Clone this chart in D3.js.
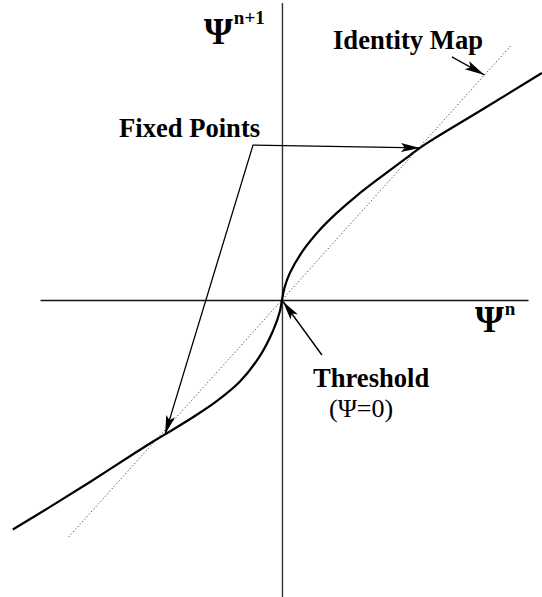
<!DOCTYPE html>
<html>
<head>
<meta charset="utf-8">
<script src="https://cdn.jsdelivr.net/npm/d3@7"></script>
<style>
  html, body { margin: 0; padding: 0; background: #fff; }
  svg { display: block; }
  text { font-family: "Liberation Serif", "DejaVu Serif", serif; fill: #000; }
</style>
</head>
<body>
<script>
// Return map  Psi^{n+1} = f(Psi^n): samples of the curve
const psiN    = [-1.98, -1.706, -1.412, -1.093, -0.971, -0.86, -0.652, -0.48, -0.309, -0.162, -0.064, -0.015, 0,
                 0.02, 0.059, 0.157, 0.279, 0.402, 0.549, 0.721, 0.892, 1.015, 1.09, 1.48, 1.912];
const psiNext = [-1.52, -1.37, -1.205, -1.02, -0.95, -0.89, -0.775, -0.67, -0.54, -0.37, -0.2, -0.075, 0,
                 0.085, 0.18, 0.33, 0.465, 0.575, 0.69, 0.81, 0.925, 1.007, 1.052, 1.265, 1.503];

// Identity map y = x, drawn over this interval
const identityRange = [-1.57, 1.69];

// Extent of the two coordinate axes
const axisXExtent = [-1.78, 1.81];
const axisYExtent = [-1.97, 1.97];

// Fixed points where the map crosses the identity, and the threshold
const fixedPoints = [[1.015, 1.007], [-0.86, -0.89]];
const threshold = [0, 0];

// Annotation anchors (data coordinates)
const fixedLabelElbow = [-0.213, 1.026];
const identityArrow = { from: [1.25, 1.61], to: [1.49, 1.49] };
const thresholdArrowTail = [0.294, -0.364];

const W = 542, H = 597;

const x = d3.scaleLinear().domain(axisXExtent).range([40, 528]);
const y = d3.scaleLinear().domain(axisYExtent).range([597.5, 2.5]);

const svg = d3.select("body").append("svg")
  .attr("width", W).attr("height", H)
  .attr("viewBox", `0 0 ${W} ${H}`);

// Axes through the origin, no ticks
const xAxis = d3.axisBottom(x).tickValues([]).tickSizeOuter(0);
const yAxis = d3.axisLeft(y).tickValues([]).tickSizeOuter(0);

svg.append("g")
  .attr("transform", `translate(0,${y(0)})`)
  .call(xAxis)
  .call(g => g.select(".domain").attr("stroke", "#111").attr("stroke-width", 1.3));

svg.append("g")
  .attr("transform", `translate(${x(0)},0)`)
  .call(yAxis)
  .call(g => g.select(".domain").attr("stroke", "#333").attr("stroke-width", 1.4));

// Identity map (dotted)
svg.append("line")
  .attr("x1", x(identityRange[0])).attr("y1", y(identityRange[0]))
  .attr("x2", x(identityRange[1])).attr("y2", y(identityRange[1]))
  .attr("stroke", "#444").attr("stroke-width", 1)
  .attr("stroke-dasharray", "1.2,2.2");

// Return map curve
const line = d3.line()
  .x(d => x(d[0])).y(d => y(d[1]))
  .curve(d3.curveCatmullRom.alpha(0.5));

svg.append("path")
  .datum(d3.zip(psiN, psiNext))
  .attr("d", line)
  .attr("fill", "none")
  .attr("stroke", "#000")
  .attr("stroke-width", 2.2)
  .attr("stroke-linejoin", "round");

// Arrow helper: slim filled head at the tip
function arrowHead(tail, tip, len = 19, half = 4.5) {
  const dx = tip[0] - tail[0], dy = tip[1] - tail[1];
  const d = Math.hypot(dx, dy), ux = dx / d, uy = dy / d;
  const bx = tip[0] - ux * len, by = tip[1] - uy * len;
  const px = -uy * half, py = ux * half;
  svg.append("path")
    .attr("d", `M${tip[0]},${tip[1]}L${bx + px},${by + py}L${bx + ux * 4},${by + uy * 4}L${bx - px},${by - py}Z`)
    .attr("fill", "#000");
}
const P = d => [x(d[0]), y(d[1])];

// Fixed points annotation: elbow shaped leader
const elbow = P(fixedLabelElbow);
const fpUp = P(fixedPoints[0]), fpLo = P(fixedPoints[1]);
svg.append("path")
  .attr("d", `M${fpUp[0]},${fpUp[1]}L${elbow[0]},${elbow[1]}L${fpLo[0]},${fpLo[1]}`)
  .attr("fill", "none").attr("stroke", "#000").attr("stroke-width", 1.3);
arrowHead(elbow, fpUp);
arrowHead(elbow, fpLo);

// Identity map arrow
const imFrom = P(identityArrow.from), imTo = P(identityArrow.to);
svg.append("line")
  .attr("x1", imFrom[0]).attr("y1", imFrom[1]).attr("x2", imTo[0]).attr("y2", imTo[1])
  .attr("stroke", "#000").attr("stroke-width", 1.4);
arrowHead(imFrom, imTo, 20, 4.5);

// Threshold arrow
const thTail = P(thresholdArrowTail), thTip = [x(threshold[0]) + 1, y(threshold[1]) + 1.5];
svg.append("line")
  .attr("x1", thTail[0]).attr("y1", thTail[1]).attr("x2", thTip[0]).attr("y2", thTip[1])
  .attr("stroke", "#000").attr("stroke-width", 1.4);
arrowHead(thTail, thTip, 19, 4.5);

// Labels
const bold = 26.6;
svg.append("text").attr("x", 333).attr("y", 48.5)
  .attr("font-size", bold).attr("font-weight", "bold").text("Identity Map");
svg.append("text").attr("x", 119).attr("y", 137)
  .attr("font-size", bold).attr("font-weight", "bold").text("Fixed Points");
svg.append("text").attr("x", 313).attr("y", 387)
  .attr("font-size", bold).attr("font-weight", "bold").text("Threshold");
svg.append("text").attr("x", 329).attr("y", 417)
  .attr("font-size", 26).text("(Ψ=0)");

// Axis titles
const yt = svg.append("text").attr("x", 204).attr("y", 43.5).attr("font-size", 37).attr("font-weight", "bold");
yt.append("tspan").text("Ψ");
yt.append("tspan").attr("font-size", 19).attr("dy", -20).attr("dx", 1).text("n+1");

const xt = svg.append("text").attr("x", 475).attr("y", 332).attr("font-size", 37).attr("font-weight", "bold");
xt.append("tspan").text("Ψ");
xt.append("tspan").attr("font-size", 19).attr("dy", -17).attr("dx", 1).text("n");
</script>
</body>
</html>
